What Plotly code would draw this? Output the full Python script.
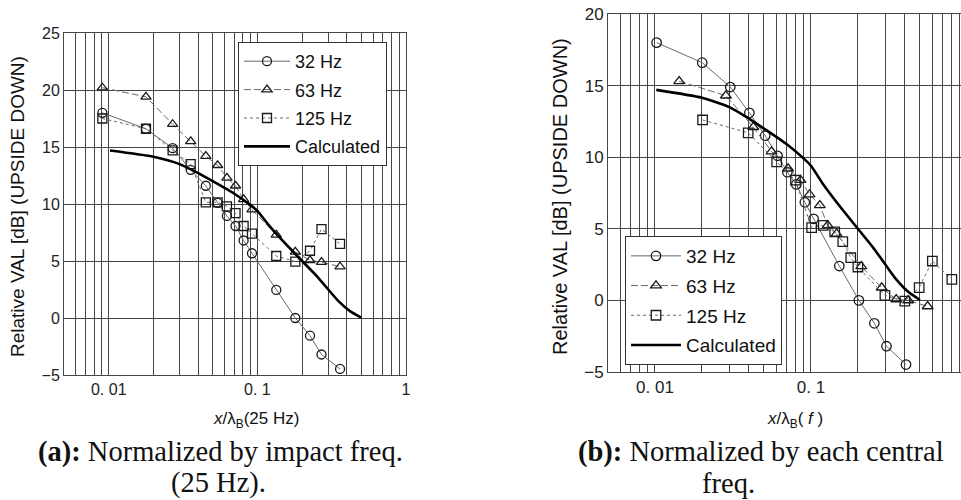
import math
import plotly.graph_objects as go

W, H = 961, 500

# ---- panel (a): distance normalised by the 25 Hz bending wavelength ----
xa = [0.00906, 0.0178, 0.0269, 0.0356, 0.045, 0.054, 0.0624, 0.0713,
      0.0808, 0.092, 0.134, 0.180, 0.226, 0.270, 0.360]
ya_32 = [18.0, 16.6, 14.9, 13.0, 11.6, 10.1, 8.95, 8.07, 6.8, 5.68,
         2.46, 0.0, -1.55, -3.2, -4.47]
ya_63 = [20.2, 19.4, 17.0, 15.5, 14.2, 13.4, 12.3, 11.6, 10.4, 9.5,
         7.3, 5.8, 5.06, 4.9, 4.5]
ya_125 = [17.5, 16.6, 14.7, 13.5, 10.15, 10.15, 9.8, 9.2, 8.07, 7.4,
          5.44, 4.95, 5.9, 7.8, 6.5]

# ---- panel (b): distance normalised by each band's own wavelength ----
xb_32 = [0.01025, 0.0201, 0.0304, 0.0403, 0.0509, 0.0611, 0.0706, 0.0806,
         0.0914, 0.104, 0.152, 0.203, 0.255, 0.305, 0.407]
yb_32 = [18.0, 16.6, 14.9, 13.1, 11.5, 10.1, 8.95, 8.1, 6.85, 5.7,
         2.4, 0.0, -1.6, -3.2, -4.48]
xb_63 = [0.0143, 0.0285, 0.0427, 0.0559, 0.0714, 0.0857, 0.098, 0.114,
         0.128, 0.146, 0.21, 0.284, 0.352, 0.42, 0.56]
yb_63 = [15.3, 14.3, 12.1, 10.4, 9.2, 8.4, 7.4, 6.64, 5.24, 4.66,
         2.38, 0.89, 0.07, 0.0, -0.42]
xb_125 = [0.0202, 0.0396, 0.0603, 0.0796, 0.101, 0.120, 0.142, 0.160,
          0.180, 0.200, 0.298, 0.40, 0.494, 0.60, 0.80]
yb_125 = [12.6, 11.7, 9.67, 8.4, 5.08, 5.24, 4.78, 4.1, 2.98, 2.33,
          0.35, -0.05, 0.89, 2.75, 1.47]

# ---- calculated attenuation curve (same in both panels) ----
calc_x = [0.0102, 0.02, 0.03, 0.04, 0.05, 0.07, 0.09, 0.1, 0.12, 0.15,
          0.2, 0.25, 0.3, 0.35, 0.42, 0.5]
calc_y = [14.7, 14.15, 13.5, 12.7, 12.0, 10.9, 9.9, 9.4, 8.1, 6.7,
          5.0, 3.7, 2.5, 1.5, 0.6, 0.03]

decade_vals = [0.01, 0.1, 1]
decade_labels = ["0. 01", "0. 1", "1"]
y_ticks_a = [-5, 0, 5, 10, 15, 20, 25]
y_ticks_b = [-5, 0, 5, 10, 15, 20]

SANS = "Liberation Sans"
SERIF = "Liberation Serif"
GRID = "#474747"
LINE = "#6a6a6a"
MARK = "#1a1a1a"


def minor_grid(lo, hi):
    """Positions of the 2..9 sub-decade grid lines inside [lo, hi]."""
    vals = []
    for e in range(-3, 1):
        for m in range(2, 10):
            v = round(m * 10 ** e, 6)
            if lo <= v <= hi:
                vals.append(v)
    return vals


fig = go.Figure()


def add_series(x, y, name, symbol, dash, xaxis, yaxis, legend, group, msize):
    fig.add_trace(go.Scatter(
        x=x, y=y, name=name, mode="lines+markers",
        line=dict(color=LINE, width=1, dash=dash),
        marker=dict(symbol=symbol, size=msize, color=MARK, line=dict(width=1.3, color=MARK)),
        xaxis=xaxis, yaxis=yaxis, legend=legend, legendgroup=group,
    ))


for (x, y, leg, xa_id, ya_id, sc) in [
    ((xa, xa, xa), (ya_32, ya_63, ya_125), "legend", "x", "y", 1.0),
    ((xb_32, xb_63, xb_125), (yb_32, yb_63, yb_125), "legend2", "x2", "y2", 1.05),
]:
    add_series(x[0], y[0], "32 Hz", "circle-open", "solid", xa_id, ya_id, leg, leg + "32", 9 * sc)
    add_series(x[1], y[1], "63 Hz", "triangle-up-open", "7px,3px", xa_id, ya_id, leg, leg + "63", 9 * sc)
    add_series(x[2], y[2], "125 Hz", "square-open", "3px,3px", xa_id, ya_id, leg, leg + "125", 9 * sc)
    fig.add_trace(go.Scatter(
        x=calc_x, y=calc_y, name="Calculated", mode="lines",
        line=dict(color="#000000", width=2.6, shape="spline", smoothing=0.6),
        xaxis=xa_id, yaxis=ya_id, legend=leg, legendgroup=leg + "calc",
    ))

axis_common = dict(
    type="log", showgrid=True, gridcolor=GRID, gridwidth=1,
    showline=True, linecolor=GRID, linewidth=1, mirror=True,
    ticks="", zeroline=False, automargin=False, tickmode="array",
    tickvals=decade_vals, ticktext=decade_labels,
)
yaxis_common = dict(
    showgrid=True, gridcolor=GRID, gridwidth=1, showline=True,
    linecolor=GRID, linewidth=1, mirror=True, ticks="",
    zeroline=False, automargin=False, tickmode="array",
)

fig.update_layout(
    width=W, height=H, autosize=False,
    margin=dict(l=0, r=0, t=0, b=0),
    paper_bgcolor="white", plot_bgcolor="white",
    showlegend=True,
    xaxis=dict(axis_common, domain=[64 / W, 406 / W],
               range=[math.log10(0.005), 0],
               minor=dict(tickmode="array", tickvals=minor_grid(0.005, 1.0),
                          showgrid=True, gridcolor=GRID, gridwidth=1, ticks=""),
               tickfont=dict(family=SANS, size=16, color="#222"), anchor="y"),
    yaxis=dict(yaxis_common, domain=[1 - 375 / H, 1 - 33 / H], range=[-5, 25],
               tickvals=y_ticks_a, tickfont=dict(family=SANS, size=16, color="#222"),
               anchor="x"),
    xaxis2=dict(axis_common, domain=[608 / W, 1.0],
                range=[math.log10(0.005), math.log10(0.916)],
                minor=dict(tickmode="array", tickvals=minor_grid(0.005, 0.92),
                           showgrid=True, gridcolor=GRID, gridwidth=1, ticks=""),
                tickfont=dict(family=SANS, size=17, color="#222"), anchor="y2"),
    yaxis2=dict(yaxis_common, domain=[1 - 372 / H, 1 - 14 / H], range=[-5, 20],
                tickvals=y_ticks_b, tickfont=dict(family=SANS, size=17, color="#222"),
                anchor="x2"),
    legend=dict(x=238 / W, y=1 - 42 / H, xanchor="left", yanchor="top",
                bgcolor="white", bordercolor="#333", borderwidth=1, itemwidth=46,
                font=dict(family=SANS, size=18, color="#111"), tracegroupgap=2),
    legend2=dict(x=625 / W, y=1 - 236 / H, xanchor="left", yanchor="top",
                 bgcolor="white", bordercolor="#333", borderwidth=1, itemwidth=50,
                 font=dict(family=SANS, size=19, color="#111"), tracegroupgap=2),
)


def note(text, px, py, size, family=SANS, angle=0, xanchor="center"):
    fig.add_annotation(
        text=text, x=px / W, y=1 - py / H, xref="paper", yref="paper",
        xanchor=xanchor, yanchor="middle", showarrow=False, textangle=angle,
        font=dict(family=family, size=size, color="#111"),
    )


# axis titles
note("Relative VAL [dB] (UPSIDE DOWN)", 18, 207, 19, angle=-90)
note("Relative VAL [dB] (UPSIDE DOWN)", 560, 197, 20, angle=-90)
note("<i>x</i>/λ<sub>B</sub>(25 Hz)", 256, 420, 17)
note("<i>x</i>/λ<sub>B</sub>( <i>f</i> )", 795, 420, 17)

# sub-figure captions
note("<b>(a):</b> Normalized by impact freq.", 220, 452, 28.5, family=SERIF)
note("(25 Hz).", 218, 483, 28.5, family=SERIF)
note("<b>(b):</b> Normalized by each central", 576, 452, 28.5, family=SERIF, xanchor="left")
note("freq.", 728, 483, 28.5, family=SERIF)

fig.write_html("out.html")
